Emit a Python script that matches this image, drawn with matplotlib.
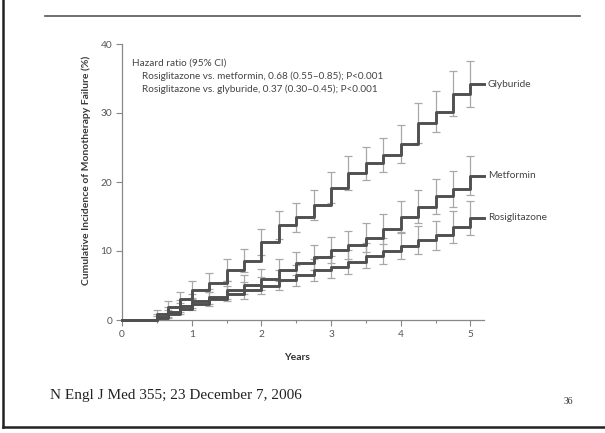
import numpy as np
import matplotlib
matplotlib.use("Agg")
import matplotlib.pyplot as plt
from matplotlib.lines import Line2D

# step times (years) and cumulative incidence (%)
t = [0, 0.5, 0.667, 0.833, 1.0, 1.25, 1.5, 1.75, 2.0, 2.25, 2.5, 2.75,
     3.0, 3.25, 3.5, 3.75, 4.0, 4.25, 4.5, 4.75, 5.0]
glyburide = [0, 0.8, 1.9, 3.0, 4.3, 5.4, 7.2, 8.6, 11.3, 13.8, 14.9, 16.7,
             19.2, 21.3, 22.7, 23.9, 25.5, 28.5, 30.2, 32.8, 34.2]
metformin = [0, 0.4, 1.2, 2.0, 2.7, 3.4, 4.4, 5.1, 5.9, 7.3, 8.2, 9.1,
             10.1, 10.9, 11.9, 13.2, 15.0, 16.4, 17.9, 19.0, 20.9]
rosiglitazone = [0, 0.3, 0.9, 1.6, 2.3, 3.0, 3.8, 4.3, 5.0, 5.8, 6.5, 7.3,
                 7.7, 8.4, 9.3, 10.0, 10.7, 11.6, 12.3, 13.5, 14.8]
# half width of the 95% CI bars at each step (t > 0)
glyb_err = [0.6, 0.9, 1.1, 1.3, 1.4, 1.6, 1.7, 1.9, 2.0, 2.1, 2.2, 2.3,
            2.4, 2.4, 2.5, 2.7, 2.9, 3.0, 3.3, 3.4]
metf_err = [0.4, 0.7, 0.9, 1.0, 1.1, 1.3, 1.4, 1.5, 1.6, 1.7, 1.8, 1.9,
            2.0, 2.1, 2.2, 2.3, 2.4, 2.5, 2.6, 2.8]
rosi_err = [0.3, 0.6, 0.8, 0.9, 1.0, 1.1, 1.2, 1.3, 1.4, 1.5, 1.6, 1.6,
            1.7, 1.8, 1.9, 1.9, 2.0, 2.1, 2.3, 2.5]
names = ["Glyburide", "Metformin", "Rosiglitazone"]
t_end = 5.2

hr_lines = ["Hazard ratio (95% CI)",
            "Rosiglitazone vs. metformin, 0.68 (0.55\u20130.85); P<0.001",
            "Rosiglitazone vs. glyburide, 0.37 (0.30\u20130.45); P<0.001"]

W, H = 605, 433
fig = plt.figure(figsize=(W / 100, H / 100), dpi=100)
fig.patch.set_facecolor("white")
ax = fig.add_axes([122 / W, (H - 320) / H, 362.4 / W, 276 / H])

sans = "Lato"
line_c = "#505050"
bar_c = "#a8a8a8"

for y, e, name in zip([glyburide, metformin, rosiglitazone],
                      [glyb_err, metf_err, rosi_err], names):
    ax.errorbar(t[1:], y[1:], yerr=e, fmt="none", ecolor=bar_c,
                elinewidth=0.9, capsize=3, capthick=0.9, zorder=2)
    ax.plot(t + [t_end], y + [y[-1]], drawstyle="steps-post", color=line_c,
            lw=2.1, zorder=3, clip_on=False)
    ax.text(t_end + 0.05, y[-1], name, fontsize=7.3, family=sans,
            color="#444444", va="center", ha="left", clip_on=False)

ax.text(0.15, 37.2, hr_lines[0], fontsize=7.2, family=sans, color="#444444",
        va="center")
ax.text(0.29, 35.4, hr_lines[1], fontsize=7.2, family=sans, color="#444444",
        va="center")
ax.text(0.29, 33.5, hr_lines[2], fontsize=7.2, family=sans, color="#444444",
        va="center")

ax.set_xlim(0, t_end)
ax.set_ylim(0, 40)
ax.set_xticks([0, 1, 2, 3, 4, 5])
ax.set_xticks([0.5, 1.5, 2.5, 3.5, 4.5], minor=True)
ax.set_yticks([0, 10, 20, 30, 40])
for s in ["top", "right"]:
    ax.spines[s].set_visible(False)
for s in ["left", "bottom"]:
    ax.spines[s].set_color("#888888")
    ax.spines[s].set_linewidth(0.9)
ax.tick_params(axis="both", which="major", length=4, width=0.8,
               color="#888888", labelsize=7.3, labelcolor="#555555", pad=3)
ax.tick_params(axis="x", which="minor", length=2.5, width=0.8,
               color="#888888")
for lab in ax.get_xticklabels() + ax.get_yticklabels():
    lab.set_family(sans)

fig.text(297 / W, 1 - 357 / H, "Years", fontsize=7.5, family=sans,
         weight="bold", color="#333333", ha="center", va="center")
fig.text(86 / W, 1 - 170 / H, "Cumulative Incidence of Monotherapy Failure (%)",
         fontsize=7.5, family=sans, weight="bold", color="#3a3a3a",
         rotation=90, ha="center", va="center")

# slide decoration
fig.add_artist(Line2D([45 / W, 580 / W], [1 - 16 / H, 1 - 16 / H],
                      color="#555555", lw=1.2))
fig.add_artist(Line2D([3 / W, 3 / W], [1.0, 1 - 427 / H], color="#222222", lw=1.8))
fig.add_artist(Line2D([3 / W, 1.0], [1 - 427 / H, 1 - 427 / H], color="#222222", lw=1.8))
fig.text(50 / W, 1 - 396 / H, "N Engl J Med 355; 23 December 7, 2006",
         fontsize=11, family="Liberation Serif", color="#222222",
         ha="left", va="center")
fig.text(568 / W, 1 - 402 / H, "36", fontsize=7, family="Liberation Serif",
         color="#333333", ha="center", va="center")

fig.savefig("out.png", dpi=100, facecolor="white")
